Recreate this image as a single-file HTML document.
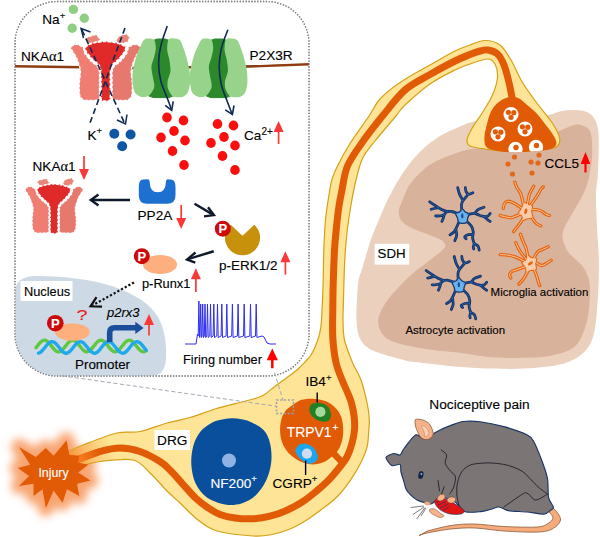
<!DOCTYPE html>
<html><head><meta charset="utf-8"><title>Figure</title>
<style>
html,body{margin:0;padding:0;background:#fff}
svg{display:block}
text{font-family:"Liberation Sans",sans-serif;stroke:#000;stroke-width:.12px}
text.w{fill:#fff;stroke:#fff}
text.r{fill:#e8201c;stroke:#e8201c}
</style></head><body>
<svg width="600" height="537" viewBox="0 0 600 537">
<g id="s1">
<defs><filter id="glow" x="-40%" y="-40%" width="180%" height="180%"><feGaussianBlur stdDeviation="4.5"/></filter></defs>
<path d="M66.6,440.2L69.3,454.7L79.3,455.8L78.2,462.5L88.3,464.7L78.2,472.6L90.5,480.4L77.1,483.7L79.3,496.0L67.0,489.3L62.6,502.7L53.6,490.4L45.8,508.3L42.5,489.3L33.5,496.0L33.5,483.7L19.0,486.0L29.0,475.9L17.9,468.1L30.2,464.7L19.0,446.9L35.8,456.9L45.8,448.0L53.6,455.8Z" fill="#f7955a" stroke="#f7955a" stroke-width="16" stroke-linejoin="round" filter="url(#glow)" opacity="0.85"/>
<path d="M471.5,122.2C478.2,120.6 490.2,118.0 500.0,117.0C509.8,116.0 521.9,116.3 530.0,116.0C538.1,115.7 542.6,115.8 548.4,114.9C554.2,114.0 559.1,111.2 565.0,110.5C570.9,109.8 579.1,110.0 583.8,111.0C588.5,112.0 590.7,114.0 593.0,116.8C595.3,119.6 596.8,123.0 597.8,128.0C598.8,132.9 598.7,138.8 598.7,146.5C598.7,154.2 598.2,166.4 597.8,174.5C597.3,182.6 596.1,186.4 596.0,195.0C595.9,203.6 596.5,215.0 597.0,226.3C597.5,237.6 598.8,250.5 598.9,262.6C599.0,274.7 598.7,286.8 597.8,298.9C596.9,311.0 596.0,326.1 593.5,335.2C591.0,344.3 588.1,348.5 582.6,353.4C577.1,358.2 570.5,361.8 560.8,364.3C551.1,366.8 536.6,367.9 524.5,368.6C512.4,369.3 499.2,368.9 488.2,368.6C477.2,368.3 466.9,367.4 458.3,366.7C449.7,366.0 443.9,365.3 436.7,364.5C429.5,363.7 420.3,362.7 415.0,362.0C409.7,361.3 411.2,362.0 405.0,360.4C398.8,358.8 384.5,355.1 377.8,352.6C371.1,350.1 368.1,348.3 364.8,345.2C361.6,342.1 359.7,338.7 358.3,334.0C356.9,329.3 356.6,323.1 356.4,317.2C356.2,311.3 356.6,304.8 357.0,298.6C357.4,292.4 357.8,284.8 358.6,280.0C359.4,275.2 360.7,273.7 361.8,270.0C362.9,266.3 363.7,263.3 365.3,258.0C366.9,252.7 369.1,244.6 371.5,238.0C373.9,231.4 376.8,224.9 379.5,218.6C382.2,212.3 384.1,206.9 387.5,200.0C390.9,193.1 395.4,184.5 400.0,177.4C404.6,170.3 409.9,163.0 414.9,157.3C419.9,151.6 424.8,147.1 429.8,143.1C434.8,139.1 439.7,136.1 444.7,133.4C449.7,130.7 455.1,128.6 459.6,126.7C464.1,124.8 464.8,123.8 471.5,122.2Z" fill="#ebd0bd"/>
<path d="M471.5,149.0C478.2,148.0 488.6,147.5 500.0,146.0C511.4,144.5 530.4,142.4 540.0,140.0C549.6,137.6 552.0,134.2 557.7,131.7C563.5,129.2 570.1,126.0 574.5,125.0C578.9,124.0 581.2,124.9 583.8,126.0C586.4,127.1 588.9,128.3 590.3,131.7C591.7,135.1 592.1,140.9 592.2,146.5C592.4,152.1 592.2,158.1 591.2,165.0C590.2,171.9 588.6,180.8 586.0,188.0C583.4,195.2 578.8,201.8 575.3,208.2C571.8,214.6 567.2,221.5 565.1,226.3C563.0,231.1 562.1,233.0 562.6,237.2C563.1,241.4 564.7,246.8 568.0,251.7C571.3,256.6 579.1,261.4 582.6,266.3C586.1,271.2 587.9,275.4 589.1,280.8C590.3,286.2 590.3,291.6 589.8,298.9C589.3,306.1 588.6,316.4 586.2,324.3C583.8,332.2 580.8,341.0 575.3,346.1C569.8,351.2 562.0,353.2 553.5,355.2C545.0,357.1 535.4,357.5 524.5,357.8C513.6,358.1 499.2,357.9 488.2,357.0C477.2,356.1 466.9,353.7 458.3,352.6C449.7,351.5 443.9,351.3 436.7,350.4C429.5,349.5 422.2,348.6 415.0,347.2C407.8,345.8 398.7,344.0 393.3,341.8C387.9,339.6 385.0,337.3 382.5,334.2C380.0,331.1 378.6,326.9 378.2,323.3C377.8,319.7 378.7,316.5 380.3,312.5C381.9,308.5 385.3,303.4 388.0,299.5C390.7,295.6 392.7,293.6 396.6,289.4C400.5,285.2 406.2,279.1 411.5,274.5C416.8,269.9 423.2,265.4 428.2,261.5C433.1,257.6 438.3,253.8 441.2,251.2C444.1,248.5 445.3,247.5 445.3,245.6C445.3,243.7 444.1,241.8 441.2,240.0C438.3,238.2 433.1,236.5 428.2,234.5C423.2,232.5 416.0,230.3 411.5,228.0C407.0,225.7 403.3,223.3 401.2,220.5C399.1,217.7 398.8,213.9 398.8,211.2C398.8,208.4 400.2,206.2 401.0,204.0C401.8,201.8 402.2,201.1 403.5,198.0C404.8,194.9 406.4,189.7 409.0,185.6C411.6,181.5 415.9,177.1 419.4,173.6C422.9,170.1 425.6,167.4 429.8,164.7C434.0,162.0 439.7,159.4 444.7,157.3C449.7,155.2 455.1,153.4 459.6,152.0C464.1,150.6 464.8,150.0 471.5,149.0Z" fill="#d9b29c"/>
<path d="M60.0,457.0C60.0,453.8 66.2,453.0 70.0,451.0C73.8,449.0 75.2,448.0 83.0,445.0C90.8,442.0 107.5,435.2 117.0,433.0C126.5,430.8 131.7,433.2 140.0,431.5C148.3,429.8 158.7,425.3 167.0,423.0C175.3,420.7 182.0,419.8 190.0,417.5C198.0,415.2 206.7,411.5 215.0,409.0C223.3,406.5 233.3,404.2 240.0,402.5C246.7,400.8 251.0,399.8 255.0,398.5C259.0,397.2 260.5,397.0 263.8,395.0C267.1,393.0 270.9,389.5 274.6,386.7C278.3,383.9 282.2,381.1 286.0,378.3C289.8,375.5 294.1,372.4 297.3,369.7C300.5,367.0 302.6,364.6 305.0,362.0C307.4,359.4 309.5,357.5 311.5,354.2C313.5,350.9 315.4,346.7 317.0,342.0C318.6,337.3 320.0,335.1 321.0,326.0C322.0,316.9 322.5,300.2 323.0,287.5C323.5,274.8 323.4,261.2 323.8,250.0C324.2,238.8 324.7,228.7 325.5,220.0C326.3,211.3 327.4,204.7 328.5,198.0C329.6,191.3 330.3,185.3 331.8,180.0C333.3,174.7 334.5,172.1 337.5,166.0C340.5,159.9 344.8,151.8 350.0,143.5C355.2,135.2 364.0,123.4 369.0,116.0C374.0,108.6 374.8,104.6 380.0,99.0C385.2,93.4 391.7,88.2 400.0,82.5C408.3,76.8 420.8,70.2 430.0,65.0C439.2,59.8 448.3,54.3 455.0,51.0C461.7,47.7 465.0,46.8 470.0,45.0C475.0,43.2 480.0,40.5 485.0,40.5C490.0,40.5 495.7,41.8 500.0,45.0C504.3,48.2 507.2,53.8 511.0,60.0C514.8,66.2 518.2,75.4 522.5,82.5C526.8,89.6 531.6,95.8 536.5,102.5C541.4,109.2 548.2,116.7 552.0,122.5C555.8,128.3 558.6,133.6 559.5,137.5C560.4,141.4 559.9,144.0 557.5,146.0C555.1,148.0 552.5,148.6 545.0,149.5C537.5,150.4 522.5,151.6 512.5,151.5C502.5,151.4 492.1,149.9 485.0,149.0C477.9,148.1 473.0,147.5 470.0,146.0C467.0,144.5 466.6,143.1 467.0,140.0C467.4,136.9 469.9,132.1 472.5,127.5C475.1,122.9 479.2,117.9 482.5,112.5C485.8,107.1 490.0,100.8 492.5,95.0C495.0,89.2 497.1,82.7 497.5,77.5C497.9,72.3 496.7,67.1 495.0,64.0C493.3,60.9 491.7,59.0 487.5,59.0C483.3,59.0 475.4,62.2 470.0,64.0C464.6,65.8 461.7,66.7 455.0,70.0C448.3,73.3 438.3,78.2 430.0,84.0C421.7,89.8 410.7,99.7 405.0,105.0C399.3,110.3 401.0,110.0 396.0,116.0C391.0,122.0 380.6,133.9 375.0,141.0C369.4,148.1 365.7,151.8 362.5,158.5C359.3,165.2 357.7,173.2 355.8,181.0C353.9,188.8 352.4,196.8 351.0,205.0C349.6,213.2 348.2,222.5 347.3,230.0C346.4,237.5 345.9,243.3 345.4,250.0C344.9,256.7 344.6,261.7 344.3,270.0C344.0,278.3 343.7,291.7 343.5,300.0C343.3,308.3 342.8,313.3 343.0,320.0C343.2,326.7 342.9,332.9 344.5,340.0C346.1,347.1 349.8,355.8 352.5,362.5C355.2,369.2 358.5,372.9 361.0,380.0C363.5,387.1 366.1,398.3 367.5,405.0C368.9,411.7 369.1,415.8 369.3,420.0C369.5,424.2 369.2,425.5 368.8,430.0C368.4,434.5 368.5,441.2 367.1,446.8C365.7,452.4 363.2,457.9 360.4,463.5C357.6,469.1 354.2,474.7 350.3,480.3C346.4,485.9 341.9,492.0 336.9,497.0C331.9,502.0 325.2,506.6 320.2,510.4C315.2,514.2 311.8,516.9 306.8,520.0C301.8,523.1 295.8,526.6 290.0,529.0C284.2,531.4 278.2,533.3 272.0,534.5C265.8,535.7 262.2,536.6 253.0,536.0C243.8,535.4 226.2,533.7 217.0,531.0C207.8,528.3 204.2,524.7 198.0,520.0C191.8,515.3 185.2,507.8 180.0,503.0C174.8,498.2 172.0,496.0 167.0,491.0C162.0,486.0 155.7,478.2 150.0,473.0C144.3,467.8 141.3,461.9 133.0,460.0C124.7,458.1 108.0,460.7 100.0,461.5C92.0,462.3 90.0,463.6 85.0,465.0C80.0,466.4 74.2,471.3 70.0,470.0C65.8,468.7 60.0,460.2 60.0,457.0Z" fill="#fde496" stroke="#d4a017" stroke-width="1.2"/>
<defs><linearGradient id="yg" gradientUnits="userSpaceOnUse" x1="74" y1="460" x2="112" y2="447"><stop offset="0" stop-color="#f58a30" stop-opacity="0.8"/><stop offset="1" stop-color="#f9b050" stop-opacity="0"/></linearGradient></defs>
<path d="M66,453L83,445.3L100,439.3L114,434.5L114,460.5L100,461L85,464.5L66,470Z" fill="url(#yg)"/>
<path d="M66.0,464.0C67.8,463.3 71.3,462.1 77.0,460.0C82.7,457.9 92.8,453.5 100.0,451.5C107.2,449.5 113.3,448.0 120.0,448.0C126.7,448.0 133.3,449.2 140.0,451.5C146.7,453.8 155.0,458.4 160.0,461.5C165.0,464.6 166.2,466.3 170.0,470.0C173.8,473.7 178.3,479.2 182.5,483.8C186.7,488.3 190.8,493.5 195.0,497.5C199.2,501.5 203.3,504.7 207.5,507.5C211.7,510.3 215.4,512.8 220.0,514.5C224.6,516.2 229.6,517.3 235.0,518.0C240.4,518.7 246.7,519.0 252.5,518.8C258.3,518.5 264.2,517.7 270.0,516.2C275.8,514.8 282.0,512.5 287.5,510.0C293.0,507.5 298.2,504.6 303.0,501.5C307.8,498.4 311.8,495.0 316.0,491.5C320.2,488.0 324.7,484.1 328.5,480.3C332.3,476.5 335.5,472.4 338.6,468.5C341.7,464.6 344.8,461.0 347.0,456.8C349.2,452.6 350.8,447.9 352.0,443.4C353.2,438.9 354.1,434.4 354.5,430.0C354.9,425.6 354.7,421.5 354.2,417.0C353.7,412.5 352.6,407.2 351.5,403.0C350.4,398.8 348.8,395.7 347.3,392.0C345.8,388.3 344.4,385.9 342.5,381.0C340.6,376.1 337.6,369.8 336.0,362.5C334.4,355.2 333.3,346.2 332.8,337.5C332.3,328.8 332.7,318.9 332.8,310.0C332.9,301.1 332.9,294.0 333.2,284.0C333.5,274.0 334.0,259.0 334.5,250.0C335.0,241.0 335.4,237.3 336.2,230.0C336.9,222.7 338.0,212.7 339.0,206.0C340.0,199.3 340.6,196.7 342.0,190.0C343.4,183.3 344.1,174.0 347.5,166.0C350.9,158.0 356.7,150.3 362.5,142.0C368.3,133.7 375.4,124.7 382.5,116.0C389.6,107.3 397.1,96.9 405.0,90.0C412.9,83.1 421.7,79.3 430.0,74.5C438.3,69.7 448.3,64.3 455.0,61.0C461.7,57.7 465.8,56.2 470.0,54.5C474.2,52.8 477.0,51.8 480.0,51.0C483.0,50.2 485.1,49.5 488.0,50.0C490.9,50.5 494.8,51.5 497.5,54.0C500.2,56.5 502.1,60.2 504.0,65.0C505.9,69.8 507.6,76.7 509.0,82.5C510.4,88.3 511.9,97.1 512.5,100.0" fill="none" stroke="#e15a05" stroke-width="7" stroke-linecap="round"/>
<defs><linearGradient id="axg" gradientUnits="userSpaceOnUse" x1="70" y1="462" x2="100" y2="451"><stop offset="0" stop-color="#ff8c2e"/><stop offset="1" stop-color="#e15a05"/></linearGradient></defs>
<path d="M66.0,464.0C67.8,463.3 71.3,462.1 77.0,460.0C82.7,457.9 96.2,452.9 100.0,451.5" fill="none" stroke="url(#axg)" stroke-width="7"/>
<path d="M330,449.5L341.5,461.8" stroke="#e15a05" stroke-width="6.5"/>
<path d="M512.0,96.5C514.0,96.5 516.3,97.3 518.0,98.0C519.7,98.7 520.4,99.2 522.0,100.4C523.6,101.6 525.3,103.2 527.8,105.4C530.3,107.6 534.1,110.7 537.0,113.8C539.9,116.9 542.4,120.6 545.0,124.0C547.6,127.4 550.6,130.9 552.5,134.0C554.4,137.1 556.4,140.2 556.5,142.5C556.6,144.8 555.8,146.6 553.0,148.0C550.2,149.4 546.8,150.1 540.0,150.8C533.2,151.5 520.0,152.4 512.5,152.3C505.0,152.2 499.4,151.5 495.0,150.5C490.6,149.5 487.8,148.9 486.0,146.5C484.2,144.1 484.3,139.8 484.5,136.0C484.7,132.2 486.1,127.7 487.0,124.0C487.9,120.3 488.7,116.9 490.0,113.8C491.3,110.7 493.2,107.6 495.0,105.4C496.8,103.2 499.2,101.6 501.0,100.4C502.8,99.2 504.2,98.7 506.0,98.0C507.8,97.3 510.0,96.5 512.0,96.5Z" fill="#e15a05"/><clipPath id="bulbclip"><path d="M512.0,96.5C514.0,96.5 516.3,97.3 518.0,98.0C519.7,98.7 520.4,99.2 522.0,100.4C523.6,101.6 525.3,103.2 527.8,105.4C530.3,107.6 534.1,110.7 537.0,113.8C539.9,116.9 542.4,120.6 545.0,124.0C547.6,127.4 550.6,130.9 552.5,134.0C554.4,137.1 556.4,140.2 556.5,142.5C556.6,144.8 555.8,146.6 553.0,148.0C550.2,149.4 546.8,150.1 540.0,150.8C533.2,151.5 520.0,152.4 512.5,152.3C505.0,152.2 499.4,151.5 495.0,150.5C490.6,149.5 487.8,148.9 486.0,146.5C484.2,144.1 484.3,139.8 484.5,136.0C484.7,132.2 486.1,127.7 487.0,124.0C487.9,120.3 488.7,116.9 490.0,113.8C491.3,110.7 493.2,107.6 495.0,105.4C496.8,103.2 499.2,101.6 501.0,100.4C502.8,99.2 504.2,98.7 506.0,98.0C507.8,97.3 510.0,96.5 512.0,96.5Z"/></clipPath>
<circle cx="511" cy="114.5" r="7.5" fill="#fff"/>
<circle cx="508.4" cy="112.3" r="2.6" fill="#e15a05"/>
<circle cx="513.8" cy="112.7" r="2.6" fill="#e15a05"/>
<circle cx="511" cy="117.3" r="2.6" fill="#e15a05"/>
<circle cx="525" cy="129" r="7.5" fill="#fff"/>
<circle cx="522.4" cy="126.8" r="2.6" fill="#e15a05"/>
<circle cx="527.8" cy="127.2" r="2.6" fill="#e15a05"/>
<circle cx="525" cy="131.8" r="2.6" fill="#e15a05"/>
<circle cx="498" cy="134" r="7.5" fill="#fff"/>
<circle cx="495.4" cy="131.8" r="2.6" fill="#e15a05"/>
<circle cx="500.8" cy="132.2" r="2.6" fill="#e15a05"/>
<circle cx="498" cy="136.8" r="2.6" fill="#e15a05"/>
<g clip-path="url(#bulbclip)">
<circle cx="515.5" cy="149" r="7.2" fill="#fff"/>
<circle cx="516.0" cy="147.5" r="2.7" fill="#e15a05"/>
<circle cx="536" cy="147" r="7.2" fill="#fff"/>
<circle cx="536.5" cy="145.5" r="2.7" fill="#e15a05"/>
</g>
<circle cx="514.5" cy="157" r="2.6" fill="#e2691b"/>
<circle cx="508" cy="164" r="2.6" fill="#e2691b"/>
<circle cx="512.5" cy="174" r="2.6" fill="#e2691b"/>
<circle cx="539" cy="155" r="2.6" fill="#e2691b"/>
<circle cx="531" cy="162" r="2.6" fill="#e2691b"/>
<circle cx="538" cy="163" r="2.6" fill="#e2691b"/>
<circle cx="532" cy="173" r="2.6" fill="#e2691b"/>
<text x="544.5" y="168" font-size="13.5">CCL5</text>
<path d="M585.5,172.5V163" stroke="#ff0000" stroke-width="2.2" fill="none"/><path d="M585.5,152L590.35,164H580.65Z" fill="#ff0000"/>
<rect x="374.6" y="243.8" width="34.6" height="20.8" fill="#fff"/><text x="377.6" y="258.3" font-size="13.3">SDH</text>
<text x="490.6" y="296" font-size="11.5">Microglia activation</text>
<text x="405.4" y="333.6" font-size="11.5">Astrocyte activation</text>
</g>
<g id="s2">
<defs><marker id="ah" viewBox="0 0 10 10" refX="8.5" refY="5" markerWidth="4.6" markerHeight="4.6" orient="auto-start-reverse" markerUnits="strokeWidth"><path d="M1,1L9,5L1,9" fill="none" stroke="context-stroke" stroke-width="2" stroke-linecap="round" stroke-linejoin="miter"/></marker></defs>
<rect x="15" y="1.5" width="294" height="374.5" rx="42" ry="42" fill="#fff" stroke="#878787" stroke-width="1.3" stroke-dasharray="1.3,1.6"/>
<path d="M15,66.3L82,67.3" stroke="#8f3d10" stroke-width="2.4"/>
<path d="M130,68L250,66.5L309,64.2" stroke="#8f3d10" stroke-width="2.4"/>
<circle cx="73.4" cy="9.4" r="4.7" fill="#8fcf84"/>
<circle cx="84.3" cy="18.2" r="4.7" fill="#8fcf84"/>
<circle cx="72.2" cy="28.2" r="4.7" fill="#8fcf84"/>
<text x="42.3" y="24.3" font-size="13.6">Na<tspan dy="-5.5" font-size="9.6">+</tspan></text>
<text x="21" y="61" font-size="13.6">NKA<tspan font-family="'Liberation Serif','DejaVu Serif',serif" font-size="14.5">α</tspan>1</text>
<text x="249.5" y="59.5" font-size="13.6">P2X3R</text>
<path d="M84.8,38.4C85.3,37.7 94.7,34.5 96.0,34.7C97.3,34.9 100.7,39.7 100.2,40.4C99.7,41.1 91.1,43.7 89.8,43.5C88.5,43.3 84.3,39.1 84.8,38.4Z" fill="#e98579" stroke="#fff" stroke-width="1.30" stroke-dasharray="3.2,1.4" stroke-linejoin="round"/>
<path d="M116.1,40.1C116.2,39.4 118.7,36.4 119.5,35.9C120.3,35.4 125.4,33.8 126.2,33.9C127.0,34.0 129.4,36.1 129.5,36.8C129.6,37.5 128.7,41.2 127.8,41.8C126.9,42.4 119.6,43.9 118.6,43.8C117.6,43.7 116.0,40.8 116.1,40.1Z" fill="#e98579" stroke="#fff" stroke-width="1.30" stroke-dasharray="3.2,1.4" stroke-linejoin="round"/>
<path d="M70.9,46.8C71.5,46.2 75.4,44.2 76.8,44.3C78.2,44.4 82.2,46.5 83.1,47.6C84.0,48.7 83.9,51.9 84.8,53.5C85.7,55.1 89.6,59.5 91.0,61.0C92.4,62.5 96.2,64.9 97.2,66.1C98.2,67.3 99.1,68.9 99.4,71.1C99.7,73.3 99.4,81.9 99.4,85.0C99.4,88.1 99.6,96.1 99.4,97.9C99.2,99.7 98.7,99.8 97.7,100.1C96.7,100.4 92.3,100.3 90.6,100.3C88.9,100.3 84.8,100.7 83.5,100.1C82.2,99.5 80.3,97.3 79.8,95.4C79.3,93.5 79.2,86.6 79.3,83.7C79.4,80.8 80.7,73.2 80.4,70.3C80.1,67.4 77.8,61.0 76.8,58.5C75.8,56.0 72.1,50.7 71.4,49.3C70.7,47.9 70.3,47.4 70.9,46.8Z" fill="#ef7d71" stroke="#fff" stroke-width="1.30" stroke-dasharray="3.2,1.4" stroke-linejoin="round"/>
<path d="M140.7,46.8C140.1,46.2 136.2,44.2 134.8,44.3C133.4,44.4 129.4,46.5 128.5,47.6C127.6,48.7 127.7,51.9 126.8,53.5C125.9,55.1 122.0,59.5 120.6,61.0C119.2,62.5 115.4,64.9 114.4,66.1C113.4,67.3 112.5,68.9 112.2,71.1C111.9,73.3 112.2,81.9 112.2,85.0C112.2,88.1 112.0,96.1 112.2,97.9C112.4,99.7 112.9,99.8 113.9,100.1C114.9,100.4 119.3,100.3 121.0,100.3C122.7,100.3 126.8,100.7 128.1,100.1C129.4,99.5 131.3,97.3 131.8,95.4C132.3,93.5 132.4,86.6 132.3,83.7C132.2,80.8 130.9,73.2 131.2,70.3C131.5,67.4 133.7,61.0 134.8,58.5C135.8,56.0 139.5,50.7 140.2,49.3C140.9,47.9 141.3,47.4 140.7,46.8Z" fill="#e7786d" stroke="#fff" stroke-width="1.30" stroke-dasharray="3.2,1.4" stroke-linejoin="round"/>
<path d="M85.1,47.6C85.4,46.6 87.9,44.9 89.3,44.3C90.7,43.7 95.0,42.6 96.9,42.3C98.8,42.0 103.3,41.4 105.2,41.4C107.1,41.4 111.7,42.0 113.6,42.3C115.5,42.6 119.7,43.7 121.1,44.3C122.5,44.9 125.3,46.2 125.7,47.1C126.1,48.0 125.3,50.4 124.5,51.8C123.7,53.2 120.0,57.9 118.6,59.4C117.2,60.9 113.7,63.1 112.8,64.4C111.9,65.7 110.9,67.7 110.6,70.3C110.3,72.9 110.3,83.7 110.3,87.0C110.3,90.3 110.5,97.1 110.3,98.7C110.1,100.3 109.5,100.6 108.6,100.9C107.7,101.2 103.6,101.2 102.7,100.9C101.8,100.6 101.2,100.3 101.0,98.7C100.8,97.1 101.0,90.3 101.0,87.0C101.0,83.7 101.0,72.9 100.7,70.3C100.4,67.7 99.4,65.7 98.5,64.4C97.6,63.1 94.1,60.8 92.7,59.4C91.3,58.0 87.7,54.1 86.8,52.7C85.9,51.3 84.8,48.6 85.1,47.6Z" fill="#e02a2a" stroke="#fff" stroke-width="1.60" stroke-dasharray="3.4,1.4" stroke-linejoin="round"/>
<path d="M125,28L90,123" stroke="#0f2a55" stroke-width="1.6" stroke-dasharray="6,3.5" fill="none"/>
<path d="M82,30L124.5,123" stroke="#0f2a55" stroke-width="1.6" stroke-dasharray="6,3.5" fill="none"/>
<path d="M90.5,32L81,28.5L83.5,38" stroke="#0f2a55" stroke-width="1.5" fill="none"/>
<path d="M127,114.5L125.5,124L117,120" stroke="#0f2a55" stroke-width="1.5" fill="none"/>
<path d="M151.8,41.0L157.3,39.0L165.3,39.0L170.8,41.0L173.8,95.5L169.3,97.6L153.3,97.6L147.8,95.5Z" fill="#2b882b" stroke="#2b882b" stroke-width="1" stroke-linejoin="round"/>
<path d="M154.2,39.9C153.2,38.6 149.2,38.3 147.8,38.4C146.3,38.5 144.8,38.4 143.4,40.6C142.0,42.8 138.3,50.8 136.9,54.7C135.5,58.6 133.6,66.1 133.0,69.8C132.4,73.5 132.4,79.8 132.6,82.8C132.8,85.8 133.6,90.7 134.8,92.6C135.9,94.5 139.4,96.5 141.2,96.9C143.1,97.3 147.1,97.1 148.8,95.8C150.5,94.5 153.7,89.8 154.2,87.2C154.8,84.6 153.1,79.0 152.7,76.3C152.3,73.6 151.2,69.2 151.4,66.6C151.6,64.0 153.7,59.3 154.2,56.8C154.8,54.3 155.8,50.5 155.8,48.2C155.8,45.9 155.3,41.2 154.2,39.9Z" fill="#98d38b"/>
<path d="M168.3,39.9C169.2,38.3 172.2,38.3 173.8,38.4C175.3,38.5 178.7,38.4 180.2,40.6C181.8,42.8 184.5,50.8 185.7,54.7C186.9,58.6 188.8,66.1 189.4,69.8C189.9,73.5 190.2,79.8 190.0,82.8C189.8,85.8 188.8,90.7 187.8,92.6C186.8,94.5 184.4,96.4 182.4,96.9C180.4,97.4 174.6,97.5 172.7,96.3C170.8,95.1 168.6,90.3 167.9,88.2C167.2,86.2 167.4,83.0 167.7,80.7C168.0,78.4 170.3,73.6 170.5,70.9C170.7,68.2 169.8,62.8 169.4,60.1C169.0,57.4 167.4,53.0 167.2,50.3C167.1,47.6 167.4,41.5 168.3,39.9Z" fill="#98d38b"/>
<path d="M209.2,41.0L214.7,39.0L222.7,39.0L228.2,41.0L231.2,95.5L226.7,97.6L210.7,97.6L205.2,95.5Z" fill="#2b882b" stroke="#2b882b" stroke-width="1" stroke-linejoin="round"/>
<path d="M211.6,39.9C210.6,38.6 206.6,38.3 205.1,38.4C203.7,38.5 202.2,38.4 200.8,40.6C199.4,42.8 195.7,50.8 194.3,54.7C192.9,58.6 191.0,66.1 190.4,69.8C189.8,73.5 189.8,79.8 190.0,82.8C190.2,85.8 191.0,90.7 192.1,92.6C193.3,94.5 196.8,96.5 198.6,96.9C200.5,97.3 204.5,97.1 206.2,95.8C207.9,94.5 211.1,89.8 211.6,87.2C212.2,84.6 210.5,79.0 210.1,76.3C209.7,73.6 208.6,69.2 208.8,66.6C209.0,64.0 211.1,59.3 211.6,56.8C212.2,54.3 213.2,50.5 213.2,48.2C213.2,45.9 212.7,41.2 211.6,39.9Z" fill="#98d38b"/>
<path d="M225.7,39.9C226.6,38.3 229.6,38.3 231.1,38.4C232.7,38.5 236.1,38.4 237.6,40.6C239.2,42.8 241.9,50.8 243.1,54.7C244.3,58.6 246.2,66.1 246.8,69.8C247.3,73.5 247.6,79.8 247.4,82.8C247.2,85.8 246.2,90.7 245.2,92.6C244.2,94.5 241.8,96.4 239.8,96.9C237.8,97.4 232.0,97.5 230.1,96.3C228.2,95.1 226.0,90.3 225.3,88.2C224.6,86.2 224.8,83.0 225.1,80.7C225.4,78.4 227.7,73.6 227.9,70.9C228.1,68.2 227.2,62.8 226.8,60.1C226.4,57.4 224.8,53.0 224.6,50.3C224.5,47.6 224.8,41.5 225.7,39.9Z" fill="#98d38b"/>
<path d="M167.2,26.0C166.2,29.3 162.2,39.8 160.8,46.0C159.3,52.2 158.6,57.5 158.6,63.3C158.6,69.1 159.3,74.9 160.8,80.7C162.2,86.5 165.4,93.1 167.2,98.0C169.1,102.9 170.9,108.0 171.6,110.0" stroke="#0f2a55" stroke-width="1.6" fill="none"/>
<path d="M165.2,105.4L171.7,110.3L173.2,101.4" stroke="#0f2a55" stroke-width="1.6" fill="none"/>
<path d="M227.9,29.8C226.8,32.8 222.8,42.1 221.4,48.2C220.0,54.3 219.2,60.5 219.2,66.6C219.2,72.7 220.1,79.4 221.4,85.0C222.7,90.6 225.0,95.3 226.8,100.2C228.6,105.1 231.3,111.9 232.2,114.2" stroke="#0f2a55" stroke-width="1.6" fill="none"/>
<path d="M225.2,109.8L232.4,114.5L234,105.5" stroke="#0f2a55" stroke-width="1.6" fill="none"/>
<ellipse cx="167" cy="117.5" rx="4.8" ry="5.1" fill="#fa0f0f"/>
<ellipse cx="183.5" cy="120.5" rx="4.8" ry="5.1" fill="#fa0f0f"/>
<ellipse cx="174" cy="131" rx="4.8" ry="5.1" fill="#fa0f0f"/>
<ellipse cx="161" cy="137.5" rx="4.8" ry="5.1" fill="#fa0f0f"/>
<ellipse cx="185" cy="140.5" rx="4.8" ry="5.1" fill="#fa0f0f"/>
<ellipse cx="172.5" cy="151" rx="4.8" ry="5.1" fill="#fa0f0f"/>
<ellipse cx="184" cy="165" rx="4.8" ry="5.1" fill="#fa0f0f"/>
<ellipse cx="217.5" cy="124" rx="4.8" ry="5.1" fill="#fa0f0f"/>
<ellipse cx="233.5" cy="125.5" rx="4.8" ry="5.1" fill="#fa0f0f"/>
<ellipse cx="224" cy="137" rx="4.8" ry="5.1" fill="#fa0f0f"/>
<ellipse cx="211" cy="143" rx="4.8" ry="5.1" fill="#fa0f0f"/>
<ellipse cx="235" cy="145.5" rx="4.8" ry="5.1" fill="#fa0f0f"/>
<ellipse cx="222.5" cy="156" rx="4.8" ry="5.1" fill="#fa0f0f"/>
<ellipse cx="235" cy="170" rx="4.8" ry="5.1" fill="#fa0f0f"/>
<text x="244" y="140" font-size="13.6">Ca<tspan dy="-5.5" font-size="10">2+</tspan></text>
<path d="M278.6,144V131" stroke="#fa3838" stroke-width="1.7" fill="none"/><path d="M278.6,121L283.6,132H273.6Z" fill="#fa3838"/>
<text x="87.5" y="139.5" font-size="13.6">K<tspan dy="-5.5" font-size="9.6">+</tspan></text>
<circle cx="114.3" cy="133.8" r="5" fill="#0d56a6"/>
<circle cx="130.6" cy="134.5" r="5" fill="#0d56a6"/>
<circle cx="122.2" cy="146.2" r="5" fill="#0d56a6"/>
<text x="32.5" y="171" font-size="13.6">NKA<tspan font-family="'Liberation Serif','DejaVu Serif',serif" font-size="14.5">α</tspan>1</text>
<path d="M84,156V170" stroke="#fa3838" stroke-width="1.7" fill="none"/><path d="M84,180L89,169H79Z" fill="#fa3838"/>
<path d="M36.7,181.6C37.2,181.0 45.0,178.4 46.0,178.5C47.1,178.7 49.9,182.6 49.5,183.3C49.1,183.9 42.0,186.0 40.9,185.8C39.8,185.7 36.3,182.2 36.7,181.6Z" fill="#e98579" stroke="#fff" stroke-width="1.08" stroke-dasharray="2.7,1.2" stroke-linejoin="round"/>
<path d="M62.7,183.0C62.8,182.5 64.8,179.9 65.5,179.5C66.2,179.1 70.4,177.8 71.1,177.9C71.8,177.9 73.7,179.7 73.8,180.3C73.9,180.8 73.2,183.9 72.4,184.4C71.7,184.9 65.6,186.2 64.8,186.1C64.0,186.0 62.7,183.5 62.7,183.0Z" fill="#e98579" stroke="#fff" stroke-width="1.08" stroke-dasharray="2.7,1.2" stroke-linejoin="round"/>
<path d="M25.2,188.6C25.7,188.1 28.9,186.4 30.1,186.5C31.3,186.6 34.6,188.3 35.3,189.2C36.1,190.1 36.0,192.8 36.7,194.1C37.5,195.4 40.7,199.1 41.9,200.3C43.1,201.6 46.2,203.6 47.0,204.6C47.8,205.6 48.6,206.9 48.9,208.7C49.1,210.6 48.9,217.7 48.9,220.3C48.9,222.9 49.0,229.5 48.9,231.0C48.7,232.4 48.3,232.6 47.4,232.8C46.6,233.0 42.9,233.0 41.5,233.0C40.2,233.0 36.7,233.3 35.7,232.8C34.6,232.3 33.0,230.5 32.6,228.9C32.2,227.3 32.1,221.6 32.2,219.2C32.2,216.8 33.3,210.5 33.1,208.1C32.8,205.6 31.0,200.3 30.1,198.3C29.2,196.2 26.2,191.8 25.6,190.6C25.0,189.5 24.7,189.0 25.2,188.6Z" fill="#ef7d71" stroke="#fff" stroke-width="1.08" stroke-dasharray="2.7,1.2" stroke-linejoin="round"/>
<path d="M83.1,188.6C82.6,188.1 79.4,186.4 78.2,186.5C77.1,186.6 73.8,188.3 73.0,189.2C72.2,190.1 72.4,192.8 71.6,194.1C70.8,195.4 67.7,199.1 66.5,200.3C65.2,201.6 62.1,203.6 61.3,204.6C60.5,205.6 59.7,206.9 59.5,208.7C59.3,210.6 59.5,217.7 59.5,220.3C59.5,222.9 59.3,229.5 59.5,231.0C59.6,232.4 60.0,232.6 60.9,232.8C61.7,233.0 65.4,233.0 66.8,233.0C68.2,233.0 71.6,233.3 72.7,232.8C73.7,232.3 75.3,230.5 75.7,228.9C76.2,227.3 76.2,221.6 76.2,219.2C76.1,216.8 75.0,210.5 75.2,208.1C75.5,205.6 77.4,200.3 78.2,198.3C79.1,196.2 82.1,191.8 82.7,190.6C83.3,189.5 83.7,189.0 83.1,188.6Z" fill="#e7786d" stroke="#fff" stroke-width="1.08" stroke-dasharray="2.7,1.2" stroke-linejoin="round"/>
<path d="M37.0,189.2C37.2,188.4 39.3,187.0 40.5,186.5C41.6,186.0 45.2,185.1 46.8,184.8C48.3,184.5 52.1,184.1 53.7,184.1C55.3,184.1 59.1,184.5 60.6,184.8C62.2,185.1 65.7,186.0 66.9,186.5C68.0,187.0 70.4,188.1 70.7,188.8C71.0,189.5 70.4,191.5 69.7,192.7C69.0,193.9 65.9,197.8 64.8,199.0C63.7,200.2 60.8,202.1 60.0,203.2C59.2,204.2 58.4,205.9 58.1,208.1C57.9,210.3 57.9,219.2 57.9,221.9C57.9,224.7 58.1,230.3 57.9,231.6C57.7,233.0 57.2,233.3 56.5,233.5C55.8,233.7 52.3,233.7 51.6,233.5C50.9,233.3 50.3,233.0 50.2,231.6C50.0,230.3 50.2,224.7 50.2,221.9C50.2,219.2 50.2,210.3 49.9,208.1C49.7,205.9 48.9,204.2 48.1,203.2C47.3,202.1 44.4,200.2 43.3,199.0C42.2,197.9 39.1,194.6 38.4,193.5C37.7,192.3 36.7,190.0 37.0,189.2Z" fill="#e02a2a" stroke="#fff" stroke-width="1.33" stroke-dasharray="2.8,1.2" stroke-linejoin="round"/>
<path d="M130,200H91.5" stroke="#0e1a2b" stroke-width="2.4" fill="none"/><path d="M98.5,194.5L90.8,200L98.5,205.5" stroke="#0e1a2b" stroke-width="2.4" fill="none"/>
<path transform="translate(0,-0.8)" d="M138.8,188Q138.8,180.5 143,180.3L147.5,180Q149.6,180 149.7,183Q150,193 157.7,193Q165.5,193 165.9,183Q166,180 168,180L172,180.5Q175.5,181 175.5,188L175.5,196Q175.5,204.5 167,204.5L147,204.5Q138.8,204.5 138.8,196Z" fill="#1d6fd0"/>
<text x="137.5" y="220" font-size="13.6">PP2A</text>
<path d="M181.2,205V219" stroke="#fa3838" stroke-width="1.7" fill="none"/><path d="M181.2,229L186.2,218H176.2Z" fill="#fa3838"/>
<path d="M194.5,203.8L213,214.6" stroke="#0e1a2b" stroke-width="2.4" fill="none"/><path d="M208,207.3L213.9,215.1L204,216.4" stroke="#0e1a2b" stroke-width="2.4" fill="none"/>
<path d="M242.5,235.8L254.3,224.7A17.6,17.6 0 1 1 230.7,224.7Z" fill="#c8910c"/>
<circle cx="222.8" cy="228.7" r="8" fill="#cc0a0a"/><text x="222.8" y="233.29999999999998" font-size="13" font-weight="bold" class="w" stroke-width="0" text-anchor="middle">P</text>
<text x="219" y="270" font-size="13.5">p-ERK1/2</text>
<path d="M285.4,274.7V261.3" stroke="#fa3838" stroke-width="1.7" fill="none"/><path d="M285.4,251.3L290.4,262.3H280.4Z" fill="#fa3838"/>
<path d="M213.75,251.25L188,259.2" stroke="#0e1a2b" stroke-width="2.4" fill="none"/><path d="M195.5,252.5L187,259.6L195.3,262.7" stroke="#0e1a2b" stroke-width="2.4" fill="none"/>
<ellipse cx="160" cy="264.5" rx="17" ry="9.5" fill="#fdb07e"/>
<circle cx="141.8" cy="256.2" r="8" fill="#cc0a0a"/><text x="141.8" y="260.8" font-size="13" font-weight="bold" class="w" stroke-width="0" text-anchor="middle">P</text>
<text x="142" y="287.5" font-size="12.8">p-Runx1</text>
<path d="M195.9,292V278.2" stroke="#fa3838" stroke-width="1.7" fill="none"/><path d="M195.9,268.2L200.9,279.2H190.9Z" fill="#fa3838"/>
</g>
<g id="s3">
<clipPath id="boxclip"><rect x="15" y="1.5" width="294" height="374.5" rx="42" ry="42"/></clipPath>
<path clip-path="url(#boxclip)" d="M15,293Q15,276 36,276C60,276 90,279 112.5,286.3C135,294 150,304 158,317C165,329 166.5,345 166,358C165.5,371 160,376 150,376L15,376Z" fill="#cdd9e5"/>
<rect x="15" y="1.5" width="294" height="374.5" rx="42" ry="42" fill="none" stroke="#878787" stroke-width="1.3" stroke-dasharray="1.3,1.6"/>
<rect x="20.5" y="281" width="52" height="20" fill="#fff"/><text x="24" y="295.5" font-size="12.8">Nucleus</text>
<path d="M134,282.5L93,305" stroke="#111" stroke-width="2.2" stroke-dasharray="2.2,2" fill="none"/><path d="M96.5,297.2L90.6,306.3L102,306.6" stroke="#111" stroke-width="2.2" fill="none"/>
<text transform="translate(82,320.2) scale(1.3,1)" x="0" y="0" font-size="15.3" text-anchor="middle" class="r" stroke-width="0.3">?</text>
<path d="M36.0,347.7C36.4,347.2 37.5,345.8 38.2,344.9C38.9,344.0 39.7,343.0 40.4,342.3C41.1,341.6 41.9,341.0 42.6,340.7C43.3,340.3 44.1,340.1 44.8,340.2C45.5,340.3 46.3,340.6 47.0,341.1C47.7,341.6 48.5,342.4 49.2,343.2C49.9,344.0 50.7,345.0 51.4,345.9C52.1,346.8 52.9,347.8 53.6,348.6C54.3,349.4 55.1,350.2 55.8,350.8C56.5,351.3 57.3,351.6 58.0,351.8C58.7,351.9 59.5,351.7 60.2,351.4C60.9,351.1 61.7,350.5 62.4,349.8C63.1,349.1 63.9,348.2 64.6,347.3C65.3,346.4 66.1,345.4 66.8,344.5C67.5,343.6 68.3,342.7 69.0,342.0C69.7,341.4 70.5,340.8 71.2,340.5C71.9,340.2 72.7,340.1 73.4,340.3C74.1,340.4 74.9,340.8 75.6,341.4C76.3,341.9 77.1,342.7 77.8,343.5C78.5,344.4 79.3,345.4 80.0,346.3C80.7,347.2 81.5,348.2 82.2,349.0C82.9,349.8 83.7,350.5 84.4,351.0C85.1,351.4 85.9,351.7 86.6,351.8C87.3,351.8 88.1,351.6 88.8,351.3C89.5,350.9 90.3,350.2 91.0,349.5C91.7,348.8 92.5,347.8 93.2,346.9C93.9,346.0 94.7,345.0 95.4,344.1C96.1,343.3 96.9,342.4 97.6,341.8C98.3,341.2 99.1,340.6 99.8,340.4C100.5,340.2 101.3,340.1 102.0,340.3C102.7,340.5 103.5,341.0 104.2,341.6C104.9,342.2 105.7,343.0 106.4,343.9C107.1,344.7 107.9,345.8 108.6,346.7C109.3,347.6 110.1,348.6 110.8,349.3C111.5,350.0 112.3,350.7 113.0,351.2C113.7,351.6 114.5,351.8 115.2,351.8C115.9,351.8 116.7,351.5 117.4,351.1C118.1,350.7 118.9,349.9 119.6,349.2C120.3,348.4 121.1,347.4 121.8,346.5C122.5,345.6 123.3,344.6 124.0,343.8C124.7,342.9 125.5,342.1 126.2,341.5C126.9,340.9 127.7,340.5 128.4,340.3C129.1,340.1 129.9,340.2 130.6,340.4C131.3,340.7 132.1,341.2 132.8,341.9C133.5,342.5 134.3,343.4 135.0,344.3C135.7,345.1 136.5,346.2 137.2,347.1C137.9,347.9 138.7,348.9 139.4,349.6C140.1,350.3 140.9,351.0 141.6,351.3C142.3,351.7 143.1,351.9 143.8,351.8C144.5,351.7 145.6,351.0 146.0,350.9" fill="none" stroke="#5fc83e" stroke-width="3.4" stroke-linecap="round"/>
<path d="M38.5,353.1C38.9,353.0 40.0,352.6 40.7,352.1C41.4,351.5 42.2,350.7 42.9,349.9C43.6,349.1 44.4,348.1 45.1,347.2C45.8,346.3 46.6,345.3 47.3,344.5C48.0,343.7 48.8,342.9 49.5,342.5C50.2,342.0 51.0,341.7 51.7,341.6C52.4,341.6 53.2,341.7 53.9,342.1C54.6,342.5 55.4,343.1 56.1,343.8C56.8,344.6 57.6,345.5 58.3,346.4C59.0,347.3 59.8,348.3 60.5,349.2C61.2,350.1 62.0,351.0 62.7,351.6C63.4,352.2 64.2,352.7 64.9,353.0C65.6,353.2 66.4,353.3 67.1,353.1C67.8,352.9 68.6,352.4 69.3,351.8C70.0,351.3 70.8,350.4 71.5,349.6C72.2,348.7 73.0,347.7 73.7,346.8C74.4,345.9 75.2,344.9 75.9,344.2C76.6,343.4 77.4,342.7 78.1,342.3C78.8,341.9 79.6,341.6 80.3,341.6C81.0,341.6 81.8,341.9 82.5,342.3C83.2,342.7 84.0,343.4 84.7,344.2C85.4,344.9 86.2,345.9 86.9,346.8C87.6,347.7 88.4,348.7 89.1,349.6C89.8,350.4 90.6,351.3 91.3,351.8C92.0,352.4 92.8,352.9 93.5,353.1C94.2,353.3 95.0,353.2 95.7,353.0C96.4,352.7 97.2,352.2 97.9,351.6C98.6,351.0 99.4,350.1 100.1,349.2C100.8,348.3 101.6,347.3 102.3,346.4C103.0,345.5 103.8,344.6 104.5,343.8C105.2,343.1 106.0,342.5 106.7,342.1C107.4,341.7 108.2,341.6 108.9,341.6C109.6,341.7 110.4,342.0 111.1,342.5C111.8,342.9 112.6,343.7 113.3,344.5C114.0,345.3 114.8,346.3 115.5,347.2C116.2,348.1 117.0,349.1 117.7,349.9C118.4,350.7 119.2,351.5 119.9,352.1C120.6,352.6 121.4,353.0 122.1,353.1C122.8,353.3 123.6,353.2 124.3,352.9C125.0,352.6 125.8,352.0 126.5,351.3C127.2,350.6 128.0,349.7 128.7,348.8C129.4,348.0 130.2,346.9 130.9,346.0C131.6,345.1 132.4,344.2 133.1,343.5C133.8,342.9 134.6,342.3 135.3,342.0C136.0,341.6 136.8,341.5 137.5,341.7C138.2,341.8 139.0,342.2 139.7,342.7C140.4,343.2 141.2,344.0 141.9,344.8C142.6,345.6 143.4,346.7 144.1,347.6C144.8,348.5 145.9,349.8 146.3,350.3" fill="none" stroke="#1fa9ea" stroke-width="3.4" stroke-linecap="round"/>
<ellipse cx="72.3" cy="332" rx="17.3" ry="8.8" fill="#fdb07e"/>
<circle cx="55.3" cy="323.2" r="8.3" fill="#cc0a0a"/><text x="55.3" y="327.8" font-size="13" font-weight="bold" class="w" stroke-width="0" text-anchor="middle">P</text>
<text x="107" y="317" font-size="13" font-style="italic">p2rx3</text>
<path d="M109.7,342V332.5Q109.7,327.8 114.5,327.8H136" stroke="#1b4f9c" stroke-width="5.6" fill="none"/><path d="M135.3,321.8L143.6,327.9L135.3,334Z" fill="#1b4f9c"/>
<path d="M149,335.5V324" stroke="#fa3838" stroke-width="1.7" fill="none"/><path d="M149,314L154,325H144Z" fill="#fa3838"/>
<text x="75" y="369" font-size="13.4">Promoter</text>
<path d="M185,344H196L197.5,334L198.20000000000002,336L198.9,301L199.6,337.5L200.0,336L200.7,304L201.39999999999998,337.5L202.0,336L202.7,304L203.39999999999998,337.5L204.3,336L205,304L205.7,337.5L206.8,336L207.5,304L208.2,337.5L209.8,336L210.5,304L211.2,337.5L213.10000000000002,336L213.8,304L214.5,337.5L216.8,336L217.5,304L218.2,337.5L221.10000000000002,336L221.8,304L222.5,337.5L226.10000000000002,336L226.8,304L227.5,337.5L231.70000000000002,336L232.4,304L233.1,337.5L237.4,336L238.1,304L238.79999999999998,337.5L243.5,336L244.2,304L244.89999999999998,337.5L249.8,336L250.5,304L251.2,337.5L255.5,336L256.2,304L256.9,337.5L262,336L264,337L267,343L270,344H276" fill="none" stroke="#2d2df0" stroke-width="1" stroke-linejoin="round"/>
<text x="183" y="364" font-size="12.8">Firing number</text>
<path d="M272.3,368.2V359.20000000000005" stroke="#ff0000" stroke-width="2.5" fill="none"/><path d="M272.3,348.6L277.90000000000003,360.20000000000005H266.7Z" fill="#ff0000"/>
</g>
<g id="s4">
<path d="M66.6,440.2L69.3,454.7L79.3,455.8L78.2,462.5L88.3,464.7L78.2,472.6L90.5,480.4L77.1,483.7L79.3,496.0L67.0,489.3L62.6,502.7L53.6,490.4L45.8,508.3L42.5,489.3L33.5,496.0L33.5,483.7L19.0,486.0L29.0,475.9L17.9,468.1L30.2,464.7L19.0,446.9L35.8,456.9L45.8,448.0L53.6,455.8Z" fill="#e15a05"/>
<text x="38.4" y="476.6" font-size="12.4" class="w">Injury</text>
<rect x="154.5" y="430" width="35.5" height="20" fill="#fff"/><text x="157" y="445" font-size="13.7">DRG</text>
<path d="M231.2,418.3C227.8,418.4 224.4,419.0 221.0,419.8C217.6,420.6 214.1,421.4 210.7,423.4C207.3,425.4 203.4,427.8 200.5,431.6C197.6,435.4 194.8,440.5 193.3,446.0C191.8,451.5 191.0,458.2 191.3,464.4C191.7,470.5 192.9,477.4 195.4,482.9C197.9,488.4 201.7,493.6 206.6,497.2C211.5,500.8 219.3,503.4 225.1,504.4C230.9,505.4 236.4,504.9 241.5,503.4C246.6,501.9 251.7,499.0 255.8,495.2C259.9,491.4 263.4,486.3 266.0,480.8C268.6,475.3 270.5,468.5 271.2,462.4C271.9,456.2 271.4,449.2 270.2,443.9C269.0,438.6 267.1,434.2 264.0,430.6C260.9,427.0 255.4,424.3 251.7,422.4C247.9,420.5 244.9,420.0 241.5,419.3C238.1,418.6 234.6,418.2 231.2,418.3Z" fill="#0a4f9c"/>
<circle cx="229" cy="460.5" r="7" fill="#8fb3e4"/>
<text x="210.5" y="487.5" font-size="13.6" class="w">NF200<tspan dy="-5.5" font-size="9.6">+</tspan></text>
<path d="M293.8,404.3C296.6,402.4 298.5,400.7 301.7,399.8C304.9,398.9 308.9,398.5 312.8,398.7C316.8,398.9 321.7,399.7 325.4,401.1C329.1,402.6 332.4,404.8 335.0,407.4C337.6,410.0 339.9,413.2 341.3,416.9C342.7,420.6 343.1,425.6 343.2,429.6C343.3,433.6 343.0,437.3 342.1,440.7C341.2,444.1 339.8,447.6 338.1,450.2C336.4,452.8 334.2,454.5 331.8,456.5C329.4,458.5 327.1,460.8 323.9,462.1C320.7,463.4 316.5,464.5 312.8,464.5C309.1,464.5 305.4,463.7 301.7,462.1C298.0,460.5 293.6,457.8 290.6,455.0C287.6,452.2 285.2,448.8 283.5,445.4C281.8,442.0 280.8,438.3 280.3,434.4C279.9,430.4 280.0,425.5 280.8,421.7C281.6,417.9 282.8,414.3 285.0,411.4C287.2,408.5 291.0,406.2 293.8,404.3Z" fill="#e15a05"/>
<path d="M309.6,407.4C310.0,405.7 311.0,404.2 312.8,403.5C314.6,402.8 318.2,402.5 320.7,403.0C323.2,403.5 326.1,404.8 327.8,406.6C329.5,408.4 330.7,411.6 331.0,413.8C331.3,416.1 330.6,418.8 329.4,420.1C328.2,421.4 326.1,421.8 323.9,421.7C321.6,421.6 318.1,420.6 315.9,419.3C313.6,418.0 311.4,415.8 310.4,413.8C309.3,411.8 309.2,409.1 309.6,407.4Z" fill="#237f23"/><circle cx="320.4" cy="411.9" r="5.1" fill="#a3d99d"/>
<path d="M295.3,450.2C295.6,448.4 297.5,445.8 299.3,444.7C301.1,443.6 304.0,443.4 306.4,443.9C308.8,444.4 311.8,445.9 313.6,447.8C315.5,449.7 317.0,452.9 317.5,455.0C318.0,457.1 317.9,459.1 316.7,460.5C315.5,461.9 312.6,463.6 310.4,463.7C308.2,463.8 305.4,462.6 303.3,461.3C301.2,460.0 299.0,457.6 297.7,455.7C296.4,453.8 295.0,452.0 295.3,450.2Z" fill="#1aa7ef"/><circle cx="306.9" cy="453.7" r="5.1" fill="#d3dcee"/>
<text x="286.8" y="437" font-size="13.9" class="w">TRPV1<tspan dx="0.8" dy="-5.7" font-size="10">+</tspan></text>
<text x="305.5" y="386" font-size="13.6">IB4<tspan dy="-5.5" font-size="9.6">+</tspan></text>
<path d="M317.2,392.4V402.5" stroke="#000" stroke-width="1.4"/>
<text x="272.5" y="487.5" font-size="13.6">CGRP<tspan dy="-5.5" font-size="9.6">+</tspan></text>
<path d="M305.6,460.5V475" stroke="#000" stroke-width="1.4"/>
<rect x="276.5" y="400" width="17" height="13.5" fill="none" stroke="#9aa0ae" stroke-width="1.5" stroke-dasharray="2,1.8"/>
<path d="M62,375.8L276.5,406.3" stroke="#a3a8b3" stroke-width="1" stroke-dasharray="4,2.5" fill="none"/>
<path d="M274.6,372.6L283.1,400.5" stroke="#a3a8b3" stroke-width="1" stroke-dasharray="4,2.5" fill="none"/>
</g>
<g id="s5">
<path d="M461.9,211.9C461.8,210.6 461.3,206.4 461.5,204.5C461.7,202.6 462.7,201.1 463.0,200.5 M463.0,200.5C462.4,199.5 460.5,196.6 459.6,194.4C458.7,192.3 458.1,188.9 457.7,187.7 M463.0,200.5C463.5,199.9 465.1,198.1 465.9,197.1C466.7,196.1 467.6,194.9 467.9,194.4 M467.9,194.4C467.6,193.9 466.4,192.2 465.9,191.1C465.5,190.0 465.4,188.3 465.3,187.7 M467.9,194.4C468.4,194.3 469.8,194.0 470.6,193.8C471.4,193.5 472.5,193.0 472.9,192.8 M457.9,213.6C456.9,213.3 453.6,211.8 451.8,211.5C450.1,211.1 447.9,211.6 447.1,211.6 M447.1,211.6C446.1,211.2 443.0,210.2 441.1,209.2C439.2,208.2 437.6,207.1 435.7,205.8C433.8,204.6 430.7,202.5 429.7,201.8 M438.4,207.6C437.8,207.7 435.6,208.2 434.4,208.5C433.2,208.8 431.6,209.2 431.1,209.3 M447.1,211.6C446.6,212.1 445.0,213.8 443.8,214.6C442.6,215.3 441.1,215.7 439.8,215.9C438.4,216.1 436.4,216.0 435.7,216.0 M444.5,214.2C444.2,214.9 443.5,217.4 443.1,218.6C442.7,219.8 442.1,220.9 441.9,221.4 M467.3,214.6C468.0,214.4 470.7,213.8 472.0,213.6C473.2,213.4 474.4,213.3 474.9,213.2 M474.9,213.2C475.4,212.6 476.5,210.6 478.0,209.6C479.5,208.6 483.0,207.7 484.0,207.3 M474.9,213.2C475.6,213.6 477.8,214.7 479.3,215.2C480.9,215.8 483.2,216.3 484.0,216.6 M484.0,216.6C484.7,216.5 487.0,216.4 488.0,215.9C489.1,215.4 489.8,213.8 490.2,213.4 M484.0,216.6C484.7,217.1 486.8,219.1 487.8,219.9C488.8,220.7 489.8,221.2 490.2,221.4 M459.2,221.3C458.8,222.2 457.8,224.8 456.9,226.6C456.0,228.4 455.0,230.6 453.9,232.0C452.7,233.4 450.6,234.3 450.0,234.8 M455.9,228.9C456.0,230.0 456.8,233.4 456.7,235.3C456.5,237.3 455.1,239.8 454.8,240.7 M466.3,221.0C467.2,221.8 470.1,224.1 471.3,226.0C472.4,227.8 473.1,230.0 473.3,232.0C473.5,234.0 472.5,236.1 472.6,238.0C472.8,240.0 474.0,242.7 474.2,243.7 M474.2,243.7C474.1,244.2 473.4,245.8 473.3,246.7C473.2,247.6 473.6,248.6 473.7,249.0 M474.2,243.7C474.9,244.1 477.2,245.0 478.0,246.1C478.8,247.1 479.0,249.4 479.2,250.1 M472.9,234.4C472.1,234.5 469.6,234.3 468.2,234.7C466.8,235.1 465.1,236.0 464.7,236.7C464.4,237.4 465.8,238.5 466.1,238.8" fill="none" stroke="#12336b" stroke-width="2.8" stroke-linecap="round" stroke-linejoin="round"/>
<path d="M462.3,208.9C463.0,208.9 464.5,211.3 465.3,211.9C466.0,212.5 468.7,213.4 469.0,214.2C469.3,214.9 467.9,217.2 467.7,218.2C467.4,219.1 467.5,221.6 466.9,222.2C466.3,222.8 463.5,223.3 462.6,223.3C461.6,223.3 459.1,222.8 458.5,222.2C458.0,221.6 458.0,219.2 457.6,218.2C457.3,217.2 455.4,214.4 455.6,213.6C455.8,212.9 458.8,212.4 459.6,211.9C460.4,211.3 461.6,208.9 462.3,208.9Z" fill="#6cb2ec" stroke="#14376f" stroke-width="1.3"/>
<path d="M461.9,211.9C461.8,210.6 461.3,206.4 461.5,204.5C461.7,202.6 462.7,201.1 463.0,200.5 M463.0,200.5C462.4,199.5 460.5,196.6 459.6,194.4C458.7,192.3 458.1,188.9 457.7,187.7 M463.0,200.5C463.5,199.9 465.1,198.1 465.9,197.1C466.7,196.1 467.6,194.9 467.9,194.4 M467.9,194.4C467.6,193.9 466.4,192.2 465.9,191.1C465.5,190.0 465.4,188.3 465.3,187.7 M467.9,194.4C468.4,194.3 469.8,194.0 470.6,193.8C471.4,193.5 472.5,193.0 472.9,192.8 M457.9,213.6C456.9,213.3 453.6,211.8 451.8,211.5C450.1,211.1 447.9,211.6 447.1,211.6 M447.1,211.6C446.1,211.2 443.0,210.2 441.1,209.2C439.2,208.2 437.6,207.1 435.7,205.8C433.8,204.6 430.7,202.5 429.7,201.8 M438.4,207.6C437.8,207.7 435.6,208.2 434.4,208.5C433.2,208.8 431.6,209.2 431.1,209.3 M447.1,211.6C446.6,212.1 445.0,213.8 443.8,214.6C442.6,215.3 441.1,215.7 439.8,215.9C438.4,216.1 436.4,216.0 435.7,216.0 M444.5,214.2C444.2,214.9 443.5,217.4 443.1,218.6C442.7,219.8 442.1,220.9 441.9,221.4 M467.3,214.6C468.0,214.4 470.7,213.8 472.0,213.6C473.2,213.4 474.4,213.3 474.9,213.2 M474.9,213.2C475.4,212.6 476.5,210.6 478.0,209.6C479.5,208.6 483.0,207.7 484.0,207.3 M474.9,213.2C475.6,213.6 477.8,214.7 479.3,215.2C480.9,215.8 483.2,216.3 484.0,216.6 M484.0,216.6C484.7,216.5 487.0,216.4 488.0,215.9C489.1,215.4 489.8,213.8 490.2,213.4 M484.0,216.6C484.7,217.1 486.8,219.1 487.8,219.9C488.8,220.7 489.8,221.2 490.2,221.4 M459.2,221.3C458.8,222.2 457.8,224.8 456.9,226.6C456.0,228.4 455.0,230.6 453.9,232.0C452.7,233.4 450.6,234.3 450.0,234.8 M455.9,228.9C456.0,230.0 456.8,233.4 456.7,235.3C456.5,237.3 455.1,239.8 454.8,240.7 M466.3,221.0C467.2,221.8 470.1,224.1 471.3,226.0C472.4,227.8 473.1,230.0 473.3,232.0C473.5,234.0 472.5,236.1 472.6,238.0C472.8,240.0 474.0,242.7 474.2,243.7 M474.2,243.7C474.1,244.2 473.4,245.8 473.3,246.7C473.2,247.6 473.6,248.6 473.7,249.0 M474.2,243.7C474.9,244.1 477.2,245.0 478.0,246.1C478.8,247.1 479.0,249.4 479.2,250.1 M472.9,234.4C472.1,234.5 469.6,234.3 468.2,234.7C466.8,235.1 465.1,236.0 464.7,236.7C464.4,237.4 465.8,238.5 466.1,238.8" fill="none" stroke="#3b74ba" stroke-width="0.55" stroke-linecap="round" stroke-linejoin="round"/>
<ellipse cx="462.3" cy="215.9" rx="1.2" ry="2.6" fill="#1b4f9c"/>
<path d="M458.4,280.7C458.3,279.4 457.8,275.2 458.0,273.3C458.2,271.4 459.2,269.9 459.5,269.3 M459.5,269.3C458.9,268.3 457.0,265.4 456.1,263.2C455.2,261.1 454.6,257.7 454.2,256.5 M459.5,269.3C460.0,268.7 461.6,266.9 462.4,265.9C463.2,264.9 464.1,263.7 464.4,263.2 M464.4,263.2C464.1,262.7 462.9,261.0 462.4,259.9C462.0,258.8 461.9,257.1 461.8,256.5 M464.4,263.2C464.9,263.1 466.3,262.8 467.1,262.6C467.9,262.3 469.0,261.8 469.4,261.6 M454.4,282.4C453.4,282.1 450.1,280.6 448.3,280.3C446.6,279.9 444.4,280.4 443.6,280.4 M443.6,280.4C442.6,280.0 439.5,279.0 437.6,278.0C435.7,277.0 434.1,275.9 432.2,274.6C430.3,273.4 427.2,271.3 426.2,270.6 M434.9,276.4C434.3,276.5 432.1,277.0 430.9,277.3C429.7,277.6 428.1,278.0 427.6,278.1 M443.6,280.4C443.1,280.9 441.5,282.6 440.3,283.4C439.1,284.1 437.6,284.5 436.3,284.7C434.9,284.9 432.9,284.8 432.2,284.8 M441.0,283.0C440.7,283.7 440.0,286.2 439.6,287.4C439.2,288.6 438.6,289.7 438.4,290.2 M463.8,283.4C464.5,283.2 467.2,282.6 468.5,282.4C469.7,282.2 470.9,282.1 471.4,282.0 M471.4,282.0C471.9,281.4 473.0,279.4 474.5,278.4C476.0,277.4 479.5,276.5 480.5,276.1 M471.4,282.0C472.1,282.4 474.3,283.5 475.8,284.0C477.4,284.6 479.7,285.1 480.5,285.4 M480.5,285.4C481.2,285.3 483.5,285.2 484.5,284.7C485.6,284.2 486.3,282.6 486.7,282.2 M480.5,285.4C481.2,285.9 483.3,287.9 484.3,288.7C485.3,289.5 486.3,290.0 486.7,290.2 M455.7,290.1C455.3,291.0 454.3,293.6 453.4,295.4C452.5,297.2 451.5,299.4 450.4,300.8C449.2,302.2 447.1,303.1 446.5,303.6 M452.4,297.7C452.5,298.8 453.3,302.2 453.2,304.1C453.0,306.1 451.6,308.6 451.3,309.5 M462.8,289.8C463.7,290.6 466.6,292.9 467.8,294.8C468.9,296.6 469.6,298.8 469.8,300.8C470.0,302.8 469.0,304.9 469.1,306.8C469.3,308.8 470.5,311.5 470.7,312.5 M470.7,312.5C470.6,313.0 469.9,314.6 469.8,315.5C469.7,316.4 470.1,317.4 470.2,317.8 M470.7,312.5C471.4,312.9 473.7,313.8 474.5,314.9C475.3,315.9 475.5,318.2 475.7,318.9 M469.4,303.2C468.6,303.3 466.1,303.1 464.7,303.5C463.3,303.9 461.6,304.8 461.2,305.5C460.9,306.2 462.3,307.3 462.6,307.6" fill="none" stroke="#12336b" stroke-width="2.8" stroke-linecap="round" stroke-linejoin="round"/>
<path d="M458.8,277.7C459.5,277.7 461.0,280.1 461.8,280.7C462.5,281.3 465.2,282.2 465.5,283.0C465.8,283.7 464.4,286.0 464.2,287.0C463.9,287.9 464.0,290.4 463.4,291.0C462.8,291.6 460.0,292.1 459.1,292.1C458.1,292.1 455.6,291.6 455.0,291.0C454.5,290.4 454.5,288.0 454.1,287.0C453.8,286.0 451.9,283.2 452.1,282.4C452.3,281.7 455.3,281.2 456.1,280.7C456.9,280.1 458.1,277.7 458.8,277.7Z" fill="#6cb2ec" stroke="#14376f" stroke-width="1.3"/>
<path d="M458.4,280.7C458.3,279.4 457.8,275.2 458.0,273.3C458.2,271.4 459.2,269.9 459.5,269.3 M459.5,269.3C458.9,268.3 457.0,265.4 456.1,263.2C455.2,261.1 454.6,257.7 454.2,256.5 M459.5,269.3C460.0,268.7 461.6,266.9 462.4,265.9C463.2,264.9 464.1,263.7 464.4,263.2 M464.4,263.2C464.1,262.7 462.9,261.0 462.4,259.9C462.0,258.8 461.9,257.1 461.8,256.5 M464.4,263.2C464.9,263.1 466.3,262.8 467.1,262.6C467.9,262.3 469.0,261.8 469.4,261.6 M454.4,282.4C453.4,282.1 450.1,280.6 448.3,280.3C446.6,279.9 444.4,280.4 443.6,280.4 M443.6,280.4C442.6,280.0 439.5,279.0 437.6,278.0C435.7,277.0 434.1,275.9 432.2,274.6C430.3,273.4 427.2,271.3 426.2,270.6 M434.9,276.4C434.3,276.5 432.1,277.0 430.9,277.3C429.7,277.6 428.1,278.0 427.6,278.1 M443.6,280.4C443.1,280.9 441.5,282.6 440.3,283.4C439.1,284.1 437.6,284.5 436.3,284.7C434.9,284.9 432.9,284.8 432.2,284.8 M441.0,283.0C440.7,283.7 440.0,286.2 439.6,287.4C439.2,288.6 438.6,289.7 438.4,290.2 M463.8,283.4C464.5,283.2 467.2,282.6 468.5,282.4C469.7,282.2 470.9,282.1 471.4,282.0 M471.4,282.0C471.9,281.4 473.0,279.4 474.5,278.4C476.0,277.4 479.5,276.5 480.5,276.1 M471.4,282.0C472.1,282.4 474.3,283.5 475.8,284.0C477.4,284.6 479.7,285.1 480.5,285.4 M480.5,285.4C481.2,285.3 483.5,285.2 484.5,284.7C485.6,284.2 486.3,282.6 486.7,282.2 M480.5,285.4C481.2,285.9 483.3,287.9 484.3,288.7C485.3,289.5 486.3,290.0 486.7,290.2 M455.7,290.1C455.3,291.0 454.3,293.6 453.4,295.4C452.5,297.2 451.5,299.4 450.4,300.8C449.2,302.2 447.1,303.1 446.5,303.6 M452.4,297.7C452.5,298.8 453.3,302.2 453.2,304.1C453.0,306.1 451.6,308.6 451.3,309.5 M462.8,289.8C463.7,290.6 466.6,292.9 467.8,294.8C468.9,296.6 469.6,298.8 469.8,300.8C470.0,302.8 469.0,304.9 469.1,306.8C469.3,308.8 470.5,311.5 470.7,312.5 M470.7,312.5C470.6,313.0 469.9,314.6 469.8,315.5C469.7,316.4 470.1,317.4 470.2,317.8 M470.7,312.5C471.4,312.9 473.7,313.8 474.5,314.9C475.3,315.9 475.5,318.2 475.7,318.9 M469.4,303.2C468.6,303.3 466.1,303.1 464.7,303.5C463.3,303.9 461.6,304.8 461.2,305.5C460.9,306.2 462.3,307.3 462.6,307.6" fill="none" stroke="#3b74ba" stroke-width="0.55" stroke-linecap="round" stroke-linejoin="round"/>
<ellipse cx="458.8" cy="284.7" rx="1.2" ry="2.6" fill="#1b4f9c"/>
<path d="M523.7,206.1C523.3,204.2 522.2,197.8 521.0,194.6C519.9,191.5 517.9,189.4 516.8,187.3C515.8,185.3 515.1,183.0 514.8,182.1 M527.3,205.1C527.6,203.3 528.5,197.4 529.3,194.6C530.2,191.9 531.7,189.8 532.5,188.4C533.2,187.0 533.5,186.6 533.7,186.3 M530.0,206.1C531.1,204.5 534.8,199.5 536.6,196.7C538.4,193.9 539.7,191.1 540.8,189.4C541.9,187.8 542.9,187.2 543.3,186.7 M530.8,209.2C532.3,209.4 537.2,209.4 539.8,210.3C542.3,211.1 544.4,213.6 546.0,214.4C547.6,215.3 549.0,215.3 549.5,215.5 M530.4,215.5C531.3,216.7 533.9,221.0 535.6,222.8C537.3,224.5 539.9,225.4 540.8,225.9 M523.7,217.6C522.9,218.8 520.4,222.8 518.9,224.8C517.4,226.9 515.6,228.9 514.8,230.1C513.9,231.2 513.9,231.4 513.7,231.7 M521.0,213.8C519.4,214.4 514.4,217.1 511.6,217.6C508.9,218.0 506.3,216.9 504.3,216.5C502.4,216.2 500.9,215.6 500.2,215.5 M521.6,208.2C520.3,207.3 516.1,204.1 513.7,203.0C511.4,201.8 509.0,201.1 507.5,201.3C505.9,201.5 505.0,202.8 504.3,204.0C503.6,205.2 503.5,207.7 503.3,208.4" fill="none" stroke="#e8650d" stroke-width="3.3" stroke-linecap="round" stroke-linejoin="round"/>
<path d="M524.1,202.6C525.0,202.0 527.3,203.8 528.3,204.2C529.3,204.6 532.1,205.3 532.5,206.1C532.9,206.9 531.6,210.0 531.6,211.3C531.7,212.6 533.3,216.7 532.9,217.6C532.4,218.4 529.0,218.5 527.9,218.8C526.7,219.1 523.8,220.8 523.1,220.5C522.4,220.1 522.2,216.8 521.6,215.9C521.1,215.0 518.3,213.8 518.3,213.0C518.3,212.1 520.5,210.0 521.2,208.8C521.9,207.6 523.3,203.1 524.1,202.6Z" fill="#fbcdac" stroke="#e8650d" stroke-width="1.1"/>
<path d="M523.7,206.1C523.3,204.2 522.2,197.8 521.0,194.6C519.9,191.5 517.9,189.4 516.8,187.3C515.8,185.3 515.1,183.0 514.8,182.1 M527.3,205.1C527.6,203.3 528.5,197.4 529.3,194.6C530.2,191.9 531.7,189.8 532.5,188.4C533.2,187.0 533.5,186.6 533.7,186.3 M530.0,206.1C531.1,204.5 534.8,199.5 536.6,196.7C538.4,193.9 539.7,191.1 540.8,189.4C541.9,187.8 542.9,187.2 543.3,186.7 M530.8,209.2C532.3,209.4 537.2,209.4 539.8,210.3C542.3,211.1 544.4,213.6 546.0,214.4C547.6,215.3 549.0,215.3 549.5,215.5 M530.4,215.5C531.3,216.7 533.9,221.0 535.6,222.8C537.3,224.5 539.9,225.4 540.8,225.9 M523.7,217.6C522.9,218.8 520.4,222.8 518.9,224.8C517.4,226.9 515.6,228.9 514.8,230.1C513.9,231.2 513.9,231.4 513.7,231.7 M521.0,213.8C519.4,214.4 514.4,217.1 511.6,217.6C508.9,218.0 506.3,216.9 504.3,216.5C502.4,216.2 500.9,215.6 500.2,215.5 M521.6,208.2C520.3,207.3 516.1,204.1 513.7,203.0C511.4,201.8 509.0,201.1 507.5,201.3C505.9,201.5 505.0,202.8 504.3,204.0C503.6,205.2 503.5,207.7 503.3,208.4" fill="none" stroke="#f9c6a2" stroke-width="1" stroke-linecap="round" stroke-linejoin="round"/>
<ellipse cx="525.8" cy="211.3" rx="1.4" ry="3" fill="#e8650d" transform="rotate(15 525.8 211.3)"/>
<path d="M527.9,258.2C527.6,256.6 527.1,251.8 526.2,248.8C525.4,245.9 523.7,242.9 522.7,240.5C521.7,238.1 520.8,235.3 520.4,234.2 M526.2,259.2C525.1,257.8 521.3,253.3 519.6,250.5C517.8,247.7 516.4,243.9 515.8,242.6 M533.5,258.8C534.2,257.7 536.0,253.6 537.7,251.9C539.4,250.3 542.2,249.7 543.9,248.8C545.7,247.9 547.6,247.1 548.3,246.7 M535.6,262.4C536.6,262.9 539.8,265.5 541.9,265.5C543.9,265.5 546.5,263.2 548.1,262.4C549.7,261.5 550.7,260.6 551.2,260.3 M533.5,268.0C534.0,269.3 535.8,273.4 536.6,275.9C537.5,278.4 538.2,281.6 538.7,283.2C539.3,284.8 539.6,285.1 539.8,285.5 M528.7,269.2C528.0,270.7 525.8,275.5 524.1,278.0C522.5,280.5 519.8,283.2 518.9,284.2 M525.8,266.5C524.3,267.0 519.2,268.8 516.9,269.6C514.5,270.5 512.9,270.9 511.6,271.7C510.4,272.6 509.7,273.8 509.6,274.9C509.4,275.9 510.6,277.5 510.8,278.0 M525.2,261.7C523.6,261.0 518.8,258.3 515.8,257.1C512.9,256.0 510.1,255.5 507.5,255.1C504.9,254.6 501.4,254.7 500.2,254.6" fill="none" stroke="#e8650d" stroke-width="3.3" stroke-linecap="round" stroke-linejoin="round"/>
<path d="M527.3,254.6C527.9,254.4 530.3,257.2 531.4,257.6C532.5,258.0 536.1,257.5 536.6,258.2C537.2,258.9 535.9,262.1 535.8,263.4C535.8,264.7 536.8,268.8 536.2,269.6C535.6,270.5 532.0,270.2 530.8,270.5C529.6,270.8 526.9,272.5 526.2,272.1C525.6,271.8 525.9,268.2 525.4,267.1C524.9,266.1 521.6,263.9 521.6,263.0C521.7,262.1 525.2,260.6 525.8,259.6C526.5,258.7 526.6,254.9 527.3,254.6Z" fill="#fbcdac" stroke="#e8650d" stroke-width="1.1"/>
<path d="M527.9,258.2C527.6,256.6 527.1,251.8 526.2,248.8C525.4,245.9 523.7,242.9 522.7,240.5C521.7,238.1 520.8,235.3 520.4,234.2 M526.2,259.2C525.1,257.8 521.3,253.3 519.6,250.5C517.8,247.7 516.4,243.9 515.8,242.6 M533.5,258.8C534.2,257.7 536.0,253.6 537.7,251.9C539.4,250.3 542.2,249.7 543.9,248.8C545.7,247.9 547.6,247.1 548.3,246.7 M535.6,262.4C536.6,262.9 539.8,265.5 541.9,265.5C543.9,265.5 546.5,263.2 548.1,262.4C549.7,261.5 550.7,260.6 551.2,260.3 M533.5,268.0C534.0,269.3 535.8,273.4 536.6,275.9C537.5,278.4 538.2,281.6 538.7,283.2C539.3,284.8 539.6,285.1 539.8,285.5 M528.7,269.2C528.0,270.7 525.8,275.5 524.1,278.0C522.5,280.5 519.8,283.2 518.9,284.2 M525.8,266.5C524.3,267.0 519.2,268.8 516.9,269.6C514.5,270.5 512.9,270.9 511.6,271.7C510.4,272.6 509.7,273.8 509.6,274.9C509.4,275.9 510.6,277.5 510.8,278.0 M525.2,261.7C523.6,261.0 518.8,258.3 515.8,257.1C512.9,256.0 510.1,255.5 507.5,255.1C504.9,254.6 501.4,254.7 500.2,254.6" fill="none" stroke="#f9c6a2" stroke-width="1" stroke-linecap="round" stroke-linejoin="round"/>
<ellipse cx="530.4" cy="263.4" rx="1.4" ry="3" fill="#e8650d" transform="rotate(55 530.4 263.4)"/>
<text x="429.3" y="408.5" font-size="13.7">Nociceptive pain</text>
<path d="M549.0,506.0C550.1,506.8 553.8,508.3 555.7,510.6C557.6,512.9 560.9,517.0 560.5,520.0C560.1,523.0 556.9,526.3 553.4,528.3C549.9,530.3 547.5,531.5 539.2,532.0C530.9,532.5 514.5,531.7 503.7,531.0C492.9,530.3 483.5,528.3 474.7,528.0C465.9,527.7 458.9,528.2 451.0,529.0C443.1,529.8 432.6,531.9 427.3,533.0C422.0,534.1 420.4,535.2 419.0,535.6L427.3,531C431.2,530.1 443.1,526.7 451.0,525.5C458.9,524.3 465.9,523.8 474.7,524.0C483.5,524.2 493.3,526.0 503.7,526.5C514.1,527.0 529.6,527.5 537.0,527.0C544.4,526.5 545.3,525.0 548.0,523.5C550.7,522.0 552.8,519.9 553.0,518.0C553.2,516.1 550.5,513.5 549.0,512.0C547.5,510.5 544.8,509.5 544.0,509.0Z" fill="#f6ab7a" stroke="#7a4a2a" stroke-width="0.7"/>
<path d="M415.5,435.0C412.7,436.3 405.8,446.3 403.7,449.0C401.6,451.7 401.3,454.4 400.0,455.0C398.7,455.6 395.9,453.2 394.0,453.5C392.1,453.8 386.3,455.7 386.0,457.3C385.7,458.9 389.9,464.7 391.8,465.6C393.7,466.5 398.8,463.5 400.0,464.4C401.2,465.3 400.5,469.8 401.0,472.0C401.5,474.2 403.0,478.7 403.7,481.0C404.4,483.3 405.1,487.1 406.0,489.0C406.9,490.9 409.3,493.7 410.8,495.2C412.3,496.7 415.1,499.0 417.0,500.0C418.9,501.0 423.1,502.3 425.0,502.8C426.9,503.3 429.5,504.2 431.0,504.0C432.5,503.8 434.1,501.8 436.0,501.0C437.9,500.2 442.5,497.9 445.0,498.0C447.5,498.1 453.3,501.1 455.0,502.0C456.7,502.9 456.6,503.4 458.0,504.7C459.4,506.0 462.3,510.9 465.2,511.8C468.1,512.7 476.1,512.1 479.4,511.8C482.7,511.5 487.4,510.1 490.0,509.5C492.6,508.9 496.5,506.9 499.0,507.0C501.5,507.1 504.6,509.9 508.4,510.6C512.2,511.3 522.6,511.5 527.3,512.0C532.0,512.5 540.7,514.4 543.9,514.1C547.1,513.8 549.7,510.9 551.0,510.0C552.3,509.1 553.7,508.7 553.4,507.0C553.1,505.3 549.4,501.4 548.6,497.6C547.8,493.8 548.4,483.7 547.5,478.6C546.6,473.5 543.4,464.7 541.5,459.7C539.6,454.7 535.2,444.1 533.3,440.8C531.4,437.5 531.2,436.8 527.3,434.9C523.4,433.0 510.0,428.3 503.7,426.6C497.4,424.9 485.4,422.5 480.0,421.8C474.6,421.1 466.9,421.0 463.0,421.5C459.1,422.0 454.1,424.3 451.0,425.4C447.9,426.5 442.5,428.8 440.0,430.0C437.5,431.2 434.0,433.3 432.0,434.5C430.0,435.7 427.2,438.9 425.0,439.0C422.8,439.1 418.3,433.7 415.5,435.0Z" fill="#7b7576" stroke="#1b3765" stroke-width="1.15"/>
<path d="M415.5,419.5C416.5,418.7 421.1,419.4 423.0,420.0C424.9,420.6 428.3,422.4 429.7,424.2C431.1,426.0 433.3,431.8 433.3,433.7C433.3,435.6 431.1,437.7 430.0,438.5C428.9,439.3 426.3,439.8 425.0,439.6C423.7,439.4 421.4,437.9 420.5,437.0C419.6,436.1 418.6,434.0 417.9,432.5C417.2,431.0 415.8,427.7 415.5,426.0C415.2,424.3 414.5,420.3 415.5,419.5Z" fill="#f6b288" stroke="#7a4a2a" stroke-width="0.7"/>
<path d="M421,426C424,425 428,428 429,433C428,436 426,437 424.5,436.5C425,432 423,429 421,426Z" fill="#fbd2b6" stroke="#b9774e" stroke-width="0.5"/>
<path d="M441.1,449.9C442.0,450.8 445.9,452.8 446.6,455.0C447.3,457.2 444.5,460.5 445.2,463.2C445.9,465.9 449.0,469.2 450.7,471.4C452.4,473.6 454.9,473.9 455.4,476.5C455.9,479.1 454.8,483.9 453.8,486.8C452.9,489.7 450.4,492.7 449.7,493.9 M458.9,505.2C458.6,503.5 457.1,498.8 456.9,495.0C456.7,491.2 456.6,486.6 457.5,482.7C458.4,478.8 459.9,474.3 462.0,471.4C464.1,468.5 467.0,466.5 470.0,465.2C473.0,463.9 476.3,463.7 480.0,463.3C483.7,462.9 488.1,462.8 492.0,463.0C495.9,463.2 500.2,463.7 503.7,464.4C507.2,465.1 509.9,465.8 513.0,467.0C516.1,468.2 519.8,469.6 522.6,471.5C525.4,473.4 527.6,476.1 530.0,478.5C532.4,480.9 534.8,483.8 536.8,485.7C538.8,487.6 540.2,488.6 542.0,490.0C543.8,491.4 546.6,493.3 547.5,494.0 M503.7,507.0C505.2,505.9 509.9,502.7 513.0,500.5C516.1,498.3 520.5,495.3 522.6,494.0C524.7,492.7 524.5,492.8 525.5,492.8C526.5,492.8 527.4,493.2 528.5,494.0C529.6,494.8 530.8,496.8 532.0,497.8C533.2,498.8 534.1,500.0 535.6,500.0C537.1,500.0 539.0,499.0 541.0,498.0C543.0,497.0 546.4,494.7 547.5,494.0 M438,480.6L439.5,490.9 M444.2,486.8L441.5,493.9" fill="none" stroke="#1a1a22" stroke-width="0.85" stroke-linecap="round"/>
<ellipse cx="420.9" cy="475" rx="2.5" ry="4" fill="#142447" transform="rotate(15 420.9 475)"/><circle cx="421.4" cy="474" r="1" fill="#8db7e8"/>
<path d="M424,503C425.5,501 429,501.5 430.5,503.5C429.5,506 426,506.5 424,503Z" fill="#f3a77a"/>
<path d="M423.8,506L410.8,507.5M424,507L413,514.5M425,507.5L416.7,519M426,508L421,516" stroke="#222" stroke-width="0.6" fill="none"/>
<path d="M434.5,501C437,497 441,496 444,498.5C449,500 455,504 460,507C465,510 465.5,513 461,514C456,515 449,514.5 444,512C439,509.5 435,506 434.5,501Z" fill="#e21515" stroke="#1c2f66" stroke-width="0.6"/>
<path d="M437,502L443,499.5M438,505L446,501.5M440,508L448,504M443,510.5L449,507" stroke="#3a2a66" stroke-width="0.7" fill="none"/>
<path d="M437,499C438,495.5 441,493.5 444,494.5C446,496 445,499 442,500.5C440,501.5 438,501 437,499Z" fill="#f6b288" stroke="#7a4a2a" stroke-width="0.5"/>
<path d="M447,499.5C449,496.5 453,496 455.5,498.5C456,501.5 453,503.5 450,503C448,502.5 447,501 447,499.5Z" fill="#f6b288" stroke="#7a4a2a" stroke-width="0.5"/>
<path d="M429,510C431,508 435,508.5 437,510.5C439,512.5 442,514 444,515.5C443,518 439.5,518 437,516.5C434,515 430,513.5 429,510Z" fill="#f6b288" stroke="#7a4a2a" stroke-width="0.5"/>
</g>
</svg>
</body></html>
